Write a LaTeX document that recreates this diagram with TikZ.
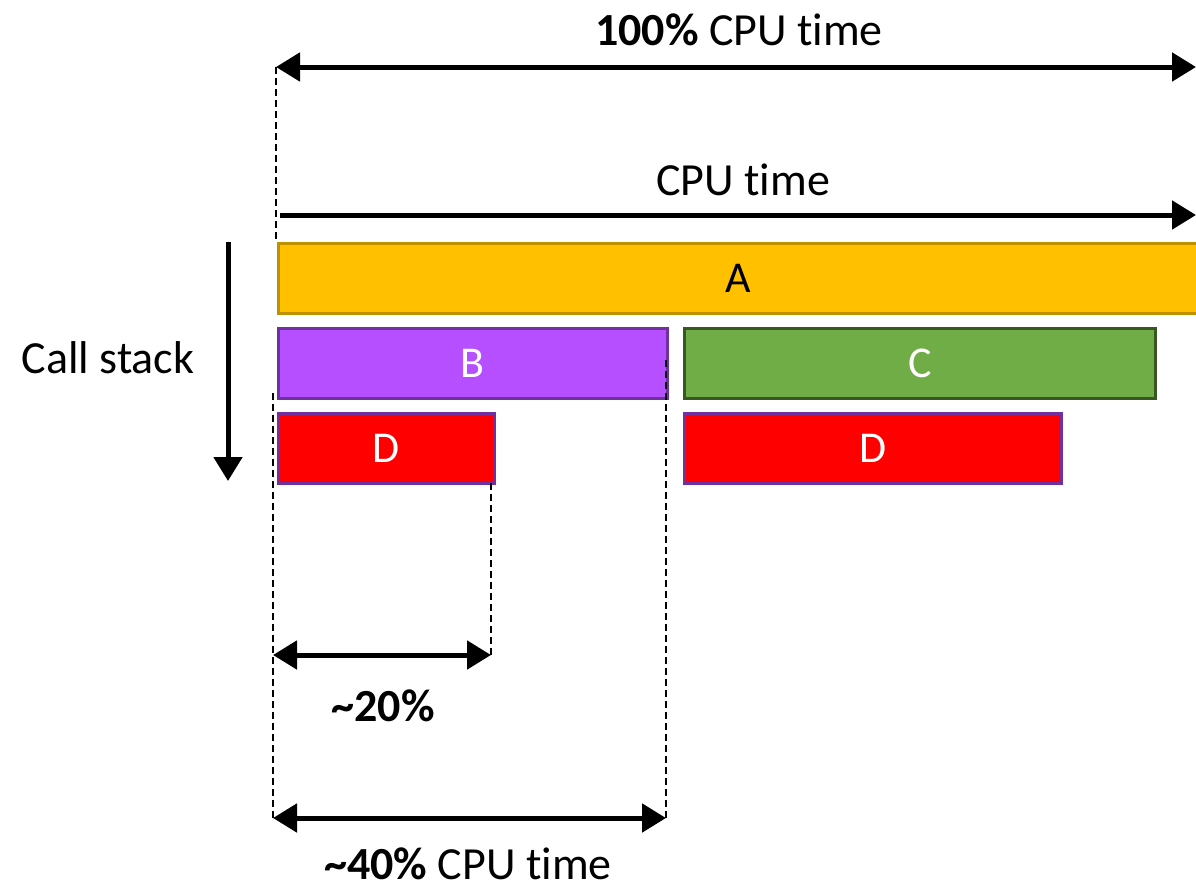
\documentclass[tikz,border=0pt]{standalone}
\usepackage{fontspec}
\setmainfont[Ligatures=NoCommon]{Carlito}
\usetikzlibrary{arrows.meta}
\definecolor{gold}{HTML}{FFC000}
\definecolor{goldb}{HTML}{BF9000}
\definecolor{purp}{HTML}{B54FFF}
\definecolor{purpb}{HTML}{7030A0}
\definecolor{grn}{HTML}{70AD47}
\definecolor{grnb}{HTML}{385723}
\definecolor{rd}{HTML}{FF0000}
\tikzset{
  bar/.style={draw, line width=2.5pt, anchor=north west, inner sep=0pt, minimum height=70pt, font=\fontsize{44}{52}\selectfont},
  dim/.style={line width=5pt, {Triangle[length=24pt,width=28pt]}-{Triangle[length=24pt,width=28pt]}},
  arr/.style={line width=5pt, -{Triangle[length=24pt,width=28pt]}},
  guide/.style={line width=1.4pt, dash pattern=on 7pt off 4pt},
  lbl/.style={font=\fontsize{46}{55}\selectfont, inner sep=0pt}
}
\begin{document}
\begin{tikzpicture}[x=1pt,y=-1pt]
\useasboundingbox (0,0) rectangle (1196,892);
% bars
\node[bar, draw=goldb, fill=gold, minimum width=920pt] (A) at (277,242) {A};
\node[bar, draw=purpb, fill=purp, text=white, minimum width=389pt] (B) at (277,327) {B};
\node[bar, draw=grnb, fill=grn, text=white, minimum width=471pt] (C) at (683,327) {C};
\node[bar, draw=purpb, fill=rd, text=white, minimum width=216pt] (D1) at (277,412) {D};
\node[bar, draw=purpb, fill=rd, text=white, minimum width=377pt] (D2) at (683,412) {D};
% coordinates
\coordinate (t1l) at (276,67);
\coordinate (t1r) at (1196,67);
\coordinate (t2l) at (280,215);
\coordinate (t2r) at (1196,215);
\coordinate (cs1) at (228,242);
\coordinate (cs2) at (228,481);
\coordinate (g0a) at (276,67);
\coordinate (g0b) at (276,241);
\coordinate (g1a) at (273,393);
\coordinate (g1b) at (273,820);
\coordinate (g2a) at (491,483);
\coordinate (g2b) at (491,655);
\coordinate (g3a) at (666,360);
\coordinate (g3b) at (666,820);
\coordinate (d1l) at (273,655);
\coordinate (d1r) at (491,655);
\coordinate (d2l) at (273,818);
\coordinate (d2r) at (666,818);
% guides
\draw[guide] (g0a) -- (g0b);
\draw[guide] (g1a) -- (g1b);
\draw[guide] (g2a) -- (g2b);
\draw[guide] (g3a) -- (g3b);
% arrows
\draw[dim] (t1l) -- (t1r);
\draw[arr] (t2l) -- (t2r);
\draw[arr] (cs1) -- (cs2);
\draw[dim] (d1l) -- (d1r);
\draw[dim] (d2l) -- (d2r);
% labels
\node[lbl] (l100) at (739,30) {\textbf{100\%} CPU time};
\node[lbl] (lcpu) at (743,180) {CPU time};
\node[lbl] (lcs) at (108,358) {Call stack};
\node[lbl] (l20) at (383,706) {\textbf{\textasciitilde20\%}};
\node[lbl] (l40) at (468,864) {\textbf{\textasciitilde40\%} CPU time};
\end{tikzpicture}
\end{document}
